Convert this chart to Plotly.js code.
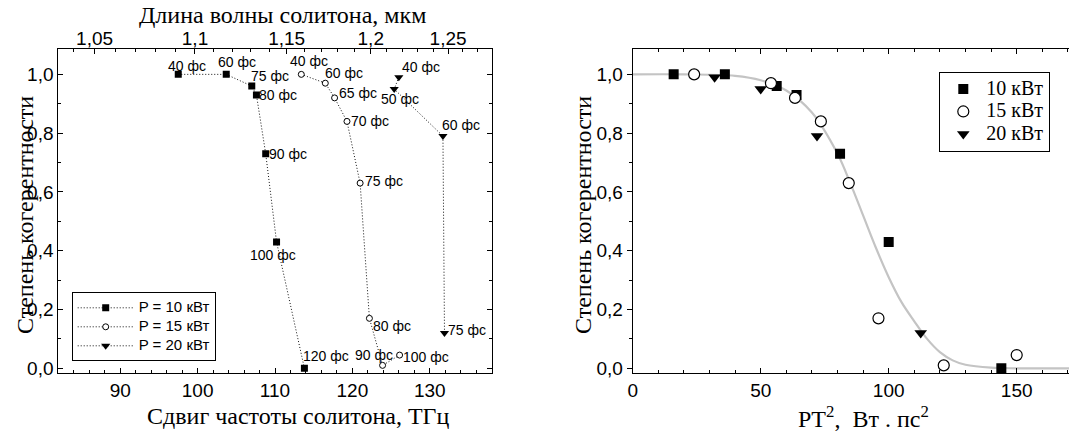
<!DOCTYPE html>
<html>
<head>
<meta charset="utf-8">
<script src="https://cdn.plot.ly/plotly-3.0.1.min.js"></script>
<style>
html,body{margin:0;padding:0;background:#fff;overflow:hidden;width:1069px;height:433px;}
#chart{width:1072px;height:433px;}
</style>
</head>
<body>
<div id="chart"></div>
<script>
// ---- Data: left panel (coherence vs soliton frequency shift) ----
const dur10   = [40, 60, 75, 80, 90, 100, 120];          // pulse duration, fs
const shift10 = [97.5, 103.7, 107.0, 107.6, 108.8, 110.2, 113.8]; // THz
const coh10   = [1.0, 1.0, 0.96, 0.93, 0.73, 0.43, 0.0];

const dur15   = [40, 60, 65, 70, 75, 80, 90, 100];
const shift15 = [113.4, 116.5, 117.7, 119.3, 121.0, 122.2, 123.9, 126.1];
const coh15   = [1.0, 0.97, 0.92, 0.84, 0.63, 0.17, 0.01, 0.045];

const dur20   = [40, 50, 60, 75];
const shift20 = [126.0, 125.4, 131.7, 131.9];
const coh20   = [0.99, 0.95, 0.79, 0.12];

// ---- Data: right panel (coherence vs P*T^2) ----
const pt2_10 = [16, 36, 56.25, 64, 81, 100, 144];
const pt2_15 = [24, 54, 63.4, 73.5, 84.4, 96, 121.5, 150];
const pt2_20 = [32, 50, 72, 112.5];

// fitted curve
const fitX = [0, 20, 40, 50, 60, 70, 80, 85, 90, 95, 100, 105, 110, 115, 120, 125, 130, 140, 150, 172];
const fitY = [1.0, 1.0, 0.995, 0.98, 0.945, 0.87, 0.73, 0.63, 0.52, 0.41, 0.31, 0.225, 0.16, 0.10, 0.055, 0.027, 0.012, 0.002, 0.0, 0.0];

// ---- Tick labels ----
const wlMajor = [1.05, 1.1, 1.15, 1.2, 1.25];
const wlMajorText = ['1,05', '1,1', '1,15', '1,2', '1,25'];
const wlMinor = [1.04, 1.06, 1.07, 1.08, 1.09, 1.11, 1.12, 1.13, 1.14, 1.16, 1.17, 1.18, 1.19,
                 1.21, 1.22, 1.23, 1.24, 1.26, 1.27];
const legendNamesL = ['P = 10 кВт', 'P = 15 кВт', 'P = 20 кВт'];
const legendNamesR = ['10 кВт', '15 кВт', '20 кВт'];

// ---- label offsets (px) for the duration annotations: [dx, dy] (screen, y down) ----
const off10 = [[9,-8],[11,-12],[18,-10],[22,0],[22,0],[-4,13],[22,-12]];
const off15 = [[8,-13],[19,-10],[23,-5],[23,0],[24,-2],[23,8],[-9,-10],[26,2]];
const off20 = [[22,-10],[6,10],[18,-11],[23,-3]];

// conversion of wavelength (µm) to frequency shift (THz) for the top axis
const C_UM_THZ = 299.792458;
const NU0 = 372.2;
const wl2shift = wl => NU0 - C_UM_THZ / wl;

const W = 1072, H = 433;
const SANS = 'Liberation Sans, Arial, sans-serif';
const SERIF = 'Liberation Serif, Times New Roman, serif';
const px = v => v / W;
const py = v => 1 - v / H;
const big = (t, s) => '<span style="font-size:' + s + 'px">' + t + '</span>';

const lineStyle = {dash: '1px,2px', width: 1, color: '#111'};
const traces = [
  {x: shift10, y: coh10, mode: 'lines+markers', name: big(legendNamesL[0], 15), xaxis: 'x', yaxis: 'y',
   line: lineStyle, marker: {symbol: 'square', size: 7, color: '#000'}, legend: 'legend'},
  {x: shift15, y: coh15, mode: 'lines+markers', name: big(legendNamesL[1], 15), xaxis: 'x', yaxis: 'y',
   line: lineStyle, marker: {symbol: 'circle', size: 6, color: '#fff', line: {color: '#000', width: 1}}, legend: 'legend'},
  {x: shift20, y: coh20, mode: 'lines+markers', name: big(legendNamesL[2], 15), xaxis: 'x', yaxis: 'y',
   line: lineStyle, marker: {symbol: 'triangle-down', size: 8, color: '#000'}, legend: 'legend'},
  // invisible trace to activate the top (wavelength) axis
  {x: shift10, y: coh10, mode: 'markers', xaxis: 'x2', yaxis: 'y', showlegend: false, hoverinfo: 'skip',
   marker: {opacity: 0}},
  // right panel
  {x: fitX, y: fitY, mode: 'lines', line: {color: '#c4c4c4', width: 2.2, shape: 'spline'},
   xaxis: 'x3', yaxis: 'y2', showlegend: false, hoverinfo: 'skip'},
  {x: pt2_10, y: coh10, mode: 'markers', name: big(legendNamesR[0], 20), xaxis: 'x3', yaxis: 'y2',
   marker: {symbol: 'square', size: 10, color: '#000'}, legend: 'legend2'},
  {x: pt2_15, y: coh15, mode: 'markers', name: big(legendNamesR[1], 20), xaxis: 'x3', yaxis: 'y2',
   marker: {symbol: 'circle', size: 11, color: '#fff', line: {color: '#000', width: 1.2}}, legend: 'legend2'},
  {x: pt2_20, y: coh20, mode: 'markers', name: big(legendNamesR[2], 20), xaxis: 'x3', yaxis: 'y2',
   marker: {symbol: 'triangle-down', size: 11, color: '#000'}, legend: 'legend2'}
];

const annotations = [];
function addLabels(xs, ys, durs, offs) {
  xs.forEach((x, i) => {
    annotations.push({x: x, y: ys[i], xref: 'x', yref: 'y', text: durs[i] + ' фс', showarrow: false,
      xanchor: 'center', yanchor: 'middle', xshift: offs[i][0], yshift: -offs[i][1],
      font: {family: SANS, size: 14, color: '#000'}});
  });
}
addLabels(shift10, coh10, dur10, off10);
addLabels(shift15, coh15, dur15, off15);
addLabels(shift20, coh20, dur20, off20);

// axis titles
const titleFont = {family: SERIF, size: 24, color: '#000'};
annotations.push({xref: 'paper', yref: 'paper', x: px(282.5), y: py(15), text: 'Длина волны солитона, мкм',
  showarrow: false, xanchor: 'center', yanchor: 'middle', font: titleFont});
annotations.push({xref: 'paper', yref: 'paper', x: px(298), y: py(416), text: 'Сдвиг частоты солитона, ТГц',
  showarrow: false, xanchor: 'center', yanchor: 'middle', font: titleFont});
annotations.push({xref: 'paper', yref: 'paper', x: px(25), y: py(215), text: 'Степень когерентности',
  showarrow: false, xanchor: 'center', yanchor: 'middle', textangle: -90, font: titleFont});
annotations.push({xref: 'paper', yref: 'paper', x: px(583), y: py(215), text: 'Степень когерентности',
  showarrow: false, xanchor: 'center', yanchor: 'middle', textangle: -90, font: titleFont});
annotations.push({xref: 'paper', yref: 'paper', x: px(863), y: py(417), text: 'PT<sup>2</sup>,  Вт . пс<sup>2</sup>',
  showarrow: false, xanchor: 'center', yanchor: 'middle', font: titleFont});

const tickFont = {family: SANS, size: 19, color: '#000'};
const baseAxis = {showline: true, linecolor: '#000', linewidth: 1, showgrid: false, zeroline: false,
  tickfont: tickFont, tickcolor: '#000', tickwidth: 1, fixedrange: true};
const yDomain = [1 - 373.3 / H, 1 - 48.5 / H];

const layout = {
  width: W, height: H,
  margin: {l: 0, r: 0, t: 0, b: 0},
  paper_bgcolor: '#fff', plot_bgcolor: '#fff',
  separators: ', ',
  font: {family: SANS, color: '#000'},
  xaxis: Object.assign({}, baseAxis, {domain: [px(58.3), px(491.7)], range: [82, 138], anchor: 'y',
    tick0: 0, dtick: 10, ticks: 'inside', ticklen: 5, mirror: true,
    minor: {dtick: 2, ticks: 'inside', ticklen: 3, tickcolor: '#000'}}),
  xaxis2: Object.assign({}, baseAxis, {overlaying: 'x', side: 'top', anchor: 'y', range: [82, 138],
    tickmode: 'array', tickvals: wlMajor.map(wl2shift), ticktext: wlMajorText,
    ticks: 'inside', ticklen: 5, ticklabelstandoff: -5,
    minor: {tickmode: 'array', tickvals: wlMinor.map(wl2shift), ticks: 'inside', ticklen: 3, tickcolor: '#000'}}),
  yaxis: Object.assign({}, baseAxis, {domain: yDomain, range: [-0.017, 1.088], anchor: 'x',
    tick0: 0, dtick: 0.2, tickformat: '.1f', ticks: 'inside', ticklen: 5, mirror: 'ticks',
    minor: {dtick: 0.1, ticks: 'inside', ticklen: 3, tickcolor: '#000'}}),
  xaxis3: Object.assign({}, baseAxis, {domain: [px(632.7), 1], range: [0, (W - 632.7) / 2.56], anchor: 'y2',
    tick0: 0, dtick: 50, ticks: 'inside', ticklen: 5, mirror: 'ticks',
    minor: {dtick: 10, ticks: 'inside', ticklen: 3, tickcolor: '#000'}}),
  yaxis2: Object.assign({}, baseAxis, {domain: yDomain, range: [-0.017, 1.088], anchor: 'x3',
    tick0: 0, dtick: 0.2, tickformat: '.1f', ticks: 'outside', ticklen: 5, mirror: 'ticks',
    minor: {dtick: 0.1, ticks: 'outside', ticklen: 3, tickcolor: '#000'}}),
  legend: {x: px(71.7), y: py(292.3), xanchor: 'left', yanchor: 'top', bgcolor: '#fff',
    bordercolor: '#000', borderwidth: 1, font: {family: SANS, size: 11, color: '#000'},
    tracegroupgap: 0, itemclick: false, itemwidth: 56},
  legend2: {x: px(939.3), y: py(71.7), xanchor: 'left', yanchor: 'top', bgcolor: '#fff',
    bordercolor: '#000', borderwidth: 1, font: {family: SERIF, size: 15, color: '#000'},
    itemclick: false, itemwidth: 36},
  annotations: annotations,
  showlegend: true
};

Plotly.newPlot('chart', traces, layout, {staticPlot: true, displayModeBar: false});
</script>
</body>
</html>
